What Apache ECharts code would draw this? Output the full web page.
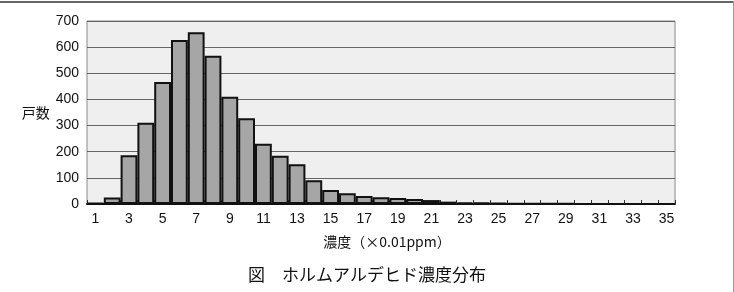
<!DOCTYPE html>
<html>
<head>
<meta charset="utf-8">
<script src="https://cdn.jsdelivr.net/npm/echarts@6/dist/echarts.min.js"></script>
<style>
  html, body { margin: 0; padding: 0; background: #fff; }
  #frame { position: relative; width: 734px; height: 292px; box-sizing: border-box; }
  #frame .top { position: absolute; left: 0; top: 1px; width: 734px; height: 2px; background: #666; }
  #frame .right { position: absolute; right: 0; top: 1px; width: 1px; height: 291px; background: #999; }
  #chart { position: absolute; left: 0; top: 0; width: 734px; height: 292px; }
</style>
</head>
<body>
<div id="frame">
  <div id="chart"></div>
  <div class="top"></div>
  <div class="right"></div>
</div>
<script>
// 濃度 (x0.01ppm) categories
const categories = ['1','2','3','4','5','6','7','8','9','10','11','12','13','14','15','16','17','18',
  '19','20','21','22','23','24','25','26','27','28','29','30','31','32','33','34','35'];
// 戸数
const households = [3, 25, 186, 311, 467, 627, 657, 567, 410, 328, 230, 185, 152, 91, 54, 41, 31, 26,
  23, 19, 15, 9, 6, 5, 4, 2, 1, 1, 1, 0, 0, 0, 0, 0, 0];

const yTicks = { min: 0, max: 700, interval: 100 };

const latin = 'Liberation Sans';
const cjk = 'Noto Sans CJK JP';

let option = {
  animation: false,
  title: {
    text: '図　ホルムアルデヒド濃度分布',
    left: 'center',
    top: 261,
    textStyle: { fontFamily: cjk, fontSize: 17, fontWeight: 'normal', color: '#111' }
  },
  grid: {
    left: 87, top: 21, width: 588, height: 183,
    show: true,
    backgroundColor: '#efefef',
    borderColor: '#8a8a8a',
    borderWidth: 1
  },
  xAxis: {
    type: 'category',
    data: categories,
    boundaryGap: true,
    name: '濃度（×0.01ppm）',
    nameLocation: 'middle',
    nameGap: 31,
    nameTextStyle: { fontFamily: cjk, fontSize: 14, color: '#111', padding: [0, 0, 0, 12] },
    axisLine: { lineStyle: { color: '#111', width: 2 } },
    axisTick: { show: true, inside: true, length: 4, interval: 0, lineStyle: { color: '#333' } },
    axisLabel: { interval: 1, margin: 8, fontFamily: latin, fontSize: 14, color: '#111' }
  },
  yAxis: {
    type: 'value',
    min: yTicks.min,
    max: yTicks.max,
    interval: yTicks.interval,
    name: '戸数',
    nameLocation: 'middle',
    nameRotate: 0,
    nameGap: 36,
    nameTextStyle: { fontFamily: cjk, fontSize: 14, color: '#111', align: 'right' },
    axisLine: { show: false },
    axisTick: { show: false },
    axisLabel: { margin: 8, fontFamily: latin, fontSize: 14, color: '#111' },
    splitLine: { lineStyle: { color: '#666', width: 1 } }
  },
  series: [
    {
      type: 'bar',
      data: households,
      barCategoryGap: '0%',
      itemStyle: { color: '#a6a6a6', borderColor: '#111', borderWidth: 2 }
    }
  ]
};

let myChart = echarts.init(document.getElementById('chart'));
myChart.setOption(option);
</script>
</body>
</html>
